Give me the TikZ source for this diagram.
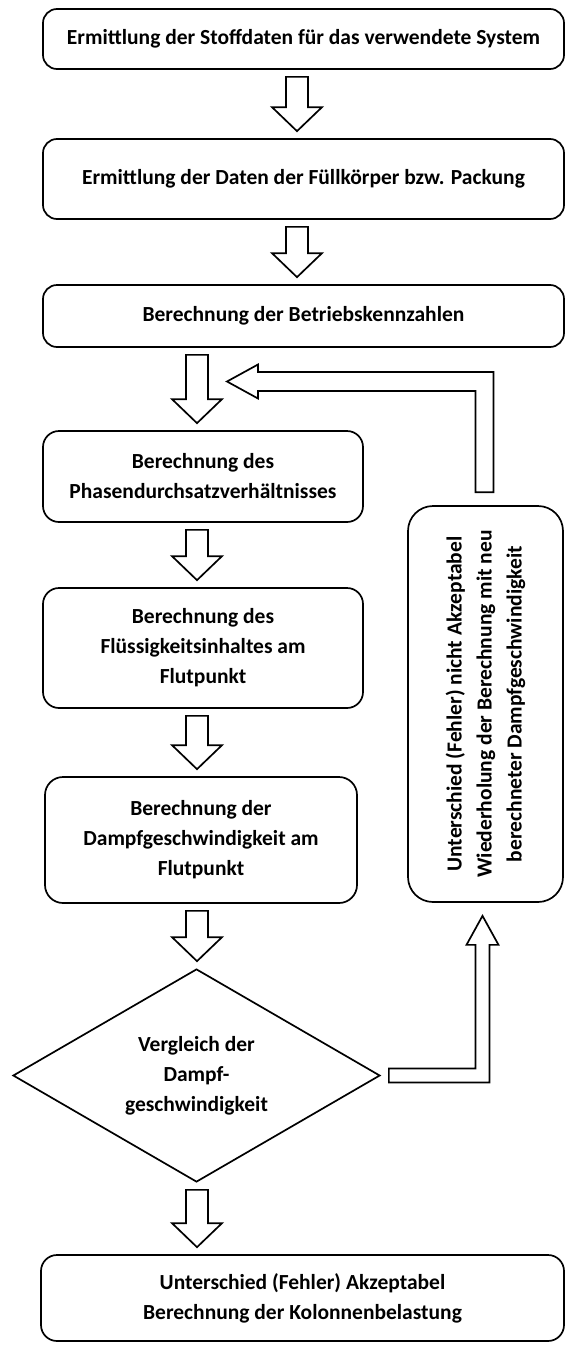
\documentclass[tikz,border=0pt]{standalone}
\usepackage{fontspec}
\setmainfont{Carlito}
\usetikzlibrary{calc,shapes.geometric}

\begin{document}
\begin{tikzpicture}[x=1pt,y=1pt,line width=1.7pt,
    every node/.style={font=\fontsize{21.5}{30}\selectfont\bfseries},
    box/.style={draw,rounded corners=#1,align=center,inner sep=0pt},
    box/.default=14pt,
    decision/.style={draw,diamond,aspect=1.72,minimum width=367pt,minimum height=213pt,inner sep=0pt,align=center},
    fatarrow/.style={draw,fill=white,line join=miter}]
            \useasboundingbox (0,0) rectangle (565,-1349);
            \coordinate (colA) at (297,0);
            \coordinate (colB) at (197,0);
            \coordinate (loopin) at (227,-381.5);
            \node[box,minimum width=521pt,minimum height=60pt] (stoff) at (303.5,-39) {Ermittlung der Stoffdaten für das verwendete System};
            \node[box,minimum width=521pt,minimum height=80pt] (packung) at (303.5,-179) {Ermittlung der Daten der Füllkörper bzw. Packung};
            \node[box,minimum width=521pt,minimum height=62pt] (betrieb) at (303.5,-316) {Berechnung der Betriebskennzahlen};
            \node[box=16pt,minimum width=320pt,minimum height=91pt] (phasen) at (203,-476.5) {Berechnung des\\Phasendurchsatzverhältnisses};
            \node[box=16pt,minimum width=320pt,minimum height=120pt] (fluess) at (203,-648) {Berechnung des\\Flüssigkeitsinhaltes am\\Flutpunkt};
            \node[box=18pt,minimum width=312pt,minimum height=126pt] (dampf) at (201,-840) {Berechnung der\\Dampfgeschwindigkeit am\\Flutpunkt};
            \node[decision] (vergleich) at (196.5,-1075.5) {Vergleich der\\Dampf-\\geschwindigkeit};
            \node[box=25pt,rotate=90,minimum width=396pt,minimum height=155pt] (retry) at (485.5,-704) {Unterschied (Fehler) nicht Akzeptabel\\Wiederholung der Berechnung mit neu\\berechneter Dampfgeschwindigkeit};
            \node[box=16pt,minimum width=523pt,minimum height=86pt] (ergebnis) at (302.5,-1298) {Unterschied (Fehler) Akzeptabel\\Berechnung der Kolonnenbelastung};
            \foreach \a/\b/\c in {stoff/packung/colA,packung/betrieb/colA,betrieb/phasen/colB,phasen/fluess/colB,
                                  fluess/dampf/colB,dampf/vergleich/colB,vergleich/ergebnis/colB}
                \draw[fatarrow] let \p1=(\a.south -| \c), \p2=(\b.north -| \c) in
                    (\x1-11pt,\y1-7pt) -- (\x1+11pt,\y1-7pt) -- (\x1+11pt,\y2+31pt) -- (\x1+25pt,\y2+31pt)
                    -- (\x1,\y2+7pt) -- (\x1-25pt,\y2+31pt) -- (\x1-11pt,\y2+31pt) -- cycle;
            % retry is turned by 90 degrees: east is its top, west its bottom
            \draw[fatarrow] let \p1=(retry.east), \p2=(loopin) in
                (\x1-10pt,\y1+13pt) -- (\x1-10pt,\y2-9.5pt) -- (\x2+31pt,\y2-9.5pt) -- (\x2+31pt,\y2-17pt)
                -- (\x2,\y2) -- (\x2+31pt,\y2+17pt) -- (\x2+31pt,\y2+9.5pt) -- (\x1+8pt,\y2+9.5pt)
                -- (\x1+8pt,\y1+13pt) -- cycle;
            \draw[fatarrow] let \p1=(vergleich.east), \p2=(retry.west) in
                (\x1+8pt,\y1+7pt) -- (\x2-10pt,\y1+7pt) -- (\x2-10pt,\y2-42pt) -- (\x2-19pt,\y2-42pt)
                -- (\x2-3pt,\y2-13pt) -- (\x2+13pt,\y2-42pt) -- (\x2+4pt,\y2-42pt) -- (\x2+4pt,\y1-7pt)
                -- (\x1+8pt,\y1-7pt) -- cycle;
        \end{tikzpicture}
\end{document}
